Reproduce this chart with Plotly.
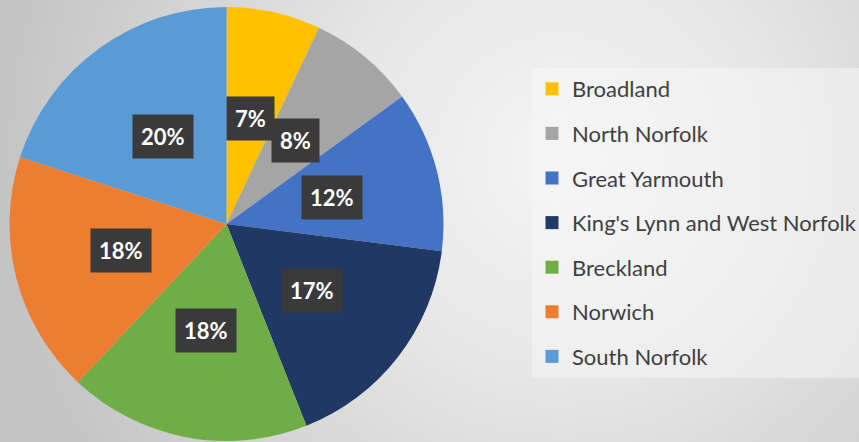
import math
import base64
import plotly.graph_objects as go

# ---- data ----
districts = ["Broadland", "North Norfolk", "Great Yarmouth",
             "King's Lynn and West Norfolk", "Breckland", "Norwich", "South Norfolk"]
shares = [7, 8, 12, 17, 18, 18, 20]
colors = ["#FFC000", "#A5A5A5", "#4472C4", "#1F3864", "#70AD47", "#ED7D31", "#5B9BD5"]

W, H = 859, 442
CX, CY, R = 226.5, 224.0, 217.0  # pie centre / radius in pixels

fig = go.Figure()

# background gradient as svg image
svg = f'''<svg xmlns="http://www.w3.org/2000/svg" width="{W}" height="{H}">
<defs><radialGradient id="g" cx="560" cy="160" r="560" gradientUnits="userSpaceOnUse">
<stop offset="0" stop-color="#f4f4f4"/><stop offset="0.4" stop-color="#e6e6e6"/>
<stop offset="1" stop-color="#c4c4c4"/></radialGradient></defs>
<rect width="{W}" height="{H}" fill="url(#g)"/></svg>'''
src = "data:image/svg+xml;base64," + base64.b64encode(svg.encode()).decode()

fig.add_trace(go.Pie(
    labels=districts, values=shares, sort=False, direction="clockwise", rotation=0,
    marker=dict(colors=colors, line=dict(width=0)),
    textinfo="none", hoverinfo="label+percent", showlegend=False,
    domain=dict(x=[(CX - R) / W, (CX + R) / W], y=[1 - (CY + R) / H, 1 - (CY - R) / H]),
))

# legend entries
for name, col in zip(districts, colors):
    fig.add_trace(go.Scatter(
        x=[None], y=[None], mode="markers", name=name, legendgroup=name,
        marker=dict(symbol="square", size=13, color=col),
    ))

# data labels computed from the values
total = sum(shares)
cum = 0
annotations = []
for v in shares:
    mid = (cum + v / 2) / total * 2 * math.pi
    cum += v
    px = CX + 0.5 * R * math.sin(mid)
    py = CY - 0.5 * R * math.cos(mid)
    annotations.append(dict(
        x=px / W, y=1 - py / H, xref="paper", yref="paper", showarrow=False,
        xanchor="center", yanchor="middle",
        text=f"{round(v / total * 100)}%",
        font=dict(family="Lato", size=22, color="white", weight="bold"),
        bgcolor="#3a3a3a", borderpad=8,
    ))

fig.update_layout(
    width=W, height=H,
    margin=dict(l=0, r=0, t=0, b=0, autoexpand=False),
    paper_bgcolor="#dedede", plot_bgcolor="rgba(0,0,0,0)",
    images=[dict(source=src, xref="paper", yref="paper", x=0, y=1, sizex=1, sizey=1,
                 sizing="stretch", layer="below", xanchor="left", yanchor="top")],
    xaxis=dict(visible=False), yaxis=dict(visible=False),
    annotations=annotations,
    legend=dict(
        x=532 / W, y=1 - 68 / H, xanchor="left", yanchor="top",
        bgcolor="rgba(248,248,248,0.5)", borderwidth=0,
        font=dict(family="Lato", size=22, color="#404040"),
        tracegroupgap=13, itemclick=False,
    ),
    showlegend=True,
)

fig.write_html("out.html", config={"displayModeBar": False},
               post_script="document.body.style.margin='0';")
